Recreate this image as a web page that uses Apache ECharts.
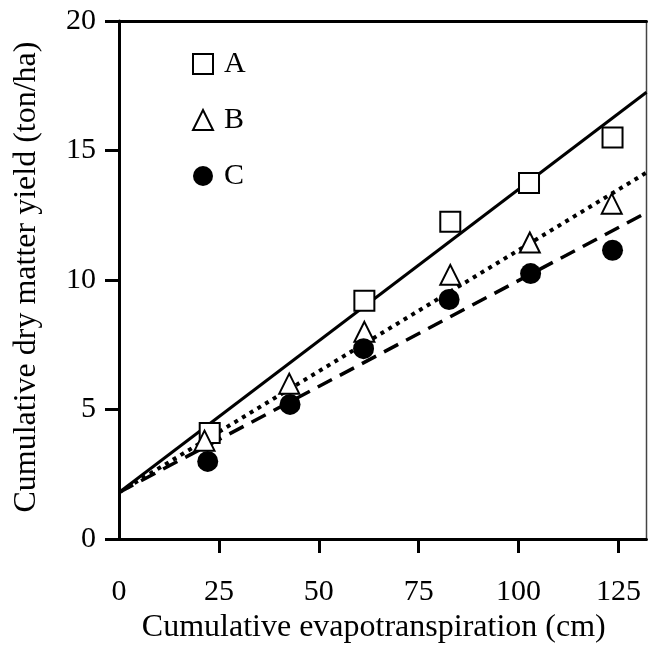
<!DOCTYPE html>
<html>
<head>
<meta charset="utf-8">
<script src="https://cdn.jsdelivr.net/npm/echarts@6/dist/echarts.min.js"></script>
<style>
  html, body { margin: 0; padding: 0; background: #fff; }
  #chart { width: 648px; height: 649px; }
</style>
</head>
<body>
<div id="chart"></div>
<script>
// measured points (x = cm, y = ton/ha)
var seriesA = [[22.7, 4.1], [61.4, 9.2], [82.9, 12.25], [102.6, 13.75], [123.5, 15.5]];
var seriesB = [[21.4, 3.8], [42.6, 6.0], [61.4, 8.0], [82.9, 10.2], [102.8, 11.45], [123.3, 12.95]];
var seriesC = [[22.2, 3.0], [42.8, 5.2], [61.2, 7.35], [82.6, 9.25], [103, 10.25], [123.5, 11.15]];

// fitted lines, end points
var fitA = [[0, 1.8], [132, 17.25]];
var fitB = [[0, 1.8], [132, 14.15]];
var fitC = [[0, 1.8], [132, 12.6]];

var xTicks = [0, 25, 50, 75, 100, 125];
var font = "'Liberation Serif', 'Times New Roman', 'DejaVu Serif', serif";

var myChart = echarts.init(document.getElementById('chart'));

var option = {
	animation: false,
	backgroundColor: '#fff',
	textStyle: { fontFamily: font },
	grid: {
		left: 119, right: 1.5, top: 21, bottom: 106,
		show: true,
		borderColor: '#444',
		borderWidth: 1.5
	},
	legend: {
		orient: 'vertical',
		left: 187,
		top: 44,
		itemWidth: 20,
		itemHeight: 20,
		itemGap: 26,
		data: ['A', 'B', 'C'],
		textStyle: { fontFamily: font, fontSize: 30, color: '#000', padding: [0, 0, 0, 6] }
	},
	xAxis: [{
		type: 'value',
		min: 0,
		max: 132,
		interval: 25,
		name: 'Cumulative evapotranspiration (cm)',
		nameLocation: 'middle',
		nameGap: 67,
		nameTextStyle: { fontFamily: font, fontSize: 32, color: '#000', padding: [0, 18, 0, 0] },
		axisLine: { lineStyle: { color: '#000', width: 3 } },
		axisTick: { length: 14, customValues: [25, 50, 75, 100, 125], lineStyle: { color: '#000', width: 3 } },
		axisLabel: { customValues: xTicks, margin: 38, fontFamily: font, fontSize: 30, color: '#000' },
		splitLine: { show: false }
	}, {
		type: 'value',
		position: 'top',
		min: 0,
		max: 132,
		axisLine: { show: true, lineStyle: { color: '#000', width: 3 } },
		axisTick: { show: false },
		axisLabel: { show: false },
		splitLine: { show: false }
	}],
	yAxis: {
		type: 'value',
		min: 0,
		max: 20,
		interval: 5,
		name: 'Cumulative dry matter yield (ton/ha)',
		nameLocation: 'middle',
		nameGap: 76,
		nameTextStyle: { fontFamily: font, fontSize: 32, color: '#000', padding: [0, 0, 0, 6] },
		axisLine: { show: true, lineStyle: { color: '#000', width: 3 } },
		axisTick: { length: 14, lineStyle: { color: '#000', width: 3 } },
		axisLabel: { margin: 23, fontFamily: font, fontSize: 30, color: '#000' },
		splitLine: { show: false }
	},
	series: [
		{
			type: 'line', data: fitA, symbol: 'none', z: 2,
			lineStyle: { color: '#000', width: 3, type: 'solid' }
		},
		{
			type: 'line', data: fitB, symbol: 'none', z: 2,
			lineStyle: { color: '#000', width: 4, type: [4, 5] }
		},
		{
			type: 'line', data: fitC, symbol: 'none', z: 2,
			lineStyle: { color: '#000', width: 3.5, type: [16, 9] }
		},
		{
			name: 'A', type: 'scatter', data: seriesA, symbol: 'rect', symbolSize: 20, z: 5,
			itemStyle: { color: '#fff', borderColor: '#000', borderWidth: 2, opacity: 1 }
		},
		{
			name: 'B', type: 'scatter', data: seriesB, symbol: 'triangle', symbolSize: 20, z: 5,
			itemStyle: { color: '#fff', borderColor: '#000', borderWidth: 2, opacity: 1 }
		},
		{
			name: 'C', type: 'scatter', data: seriesC, symbol: 'circle', symbolSize: 21, z: 5,
			itemStyle: { color: '#000', borderColor: '#000', borderWidth: 0, opacity: 1 }
		}
	]
};

myChart.setOption(option);
</script>
</body>
</html>
